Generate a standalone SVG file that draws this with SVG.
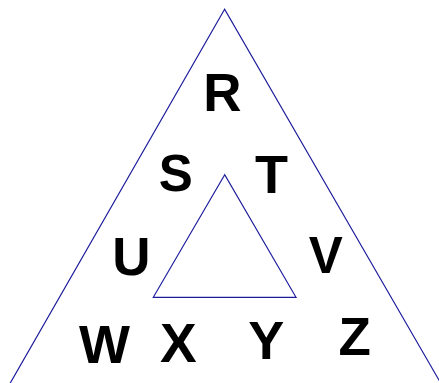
<svg xmlns="http://www.w3.org/2000/svg" width="439" height="383" viewBox="0 0 439 383">
<style>
.tri{fill:none;stroke:#1c1c9c;stroke-width:1.2;stroke-linejoin:miter}
.l{font-family:"Liberation Sans",Arial,sans-serif;font-weight:bold;fill:#000;text-anchor:middle}
</style>
<rect width="439" height="383" fill="#fff"/>
<g id="outer"><path class="tri" d="M224.6,9.3 L5.7,391 L445.3,391 Z"/></g>
<g id="inner"><path class="tri" d="M224.7,174.7 L153.3,297.3 L296,297.3 Z"/></g>
<g id="R"><text class="l" x="222.5" y="110.7" font-size="53">R</text></g>
<g id="S"><text class="l" x="175.7" y="190.5" font-size="51">S</text></g>
<g id="T"><text class="l" x="271.5" y="192.7" font-size="54">T</text></g>
<g id="U"><text class="l" x="131.3" y="275" font-size="53">U</text></g>
<g id="V"><text class="l" x="325.8" y="273.3" font-size="51">V</text></g>
<g id="W"><text class="l" x="104.5" y="362.7" font-size="54">W</text></g>
<g id="X"><text class="l" x="178.3" y="362.3" font-size="55">X</text></g>
<g id="Y"><text class="l" x="266.2" y="359.3" font-size="54">Y</text></g>
<g id="Z"><text class="l" x="354.7" y="355" font-size="53">Z</text></g>
</svg>
